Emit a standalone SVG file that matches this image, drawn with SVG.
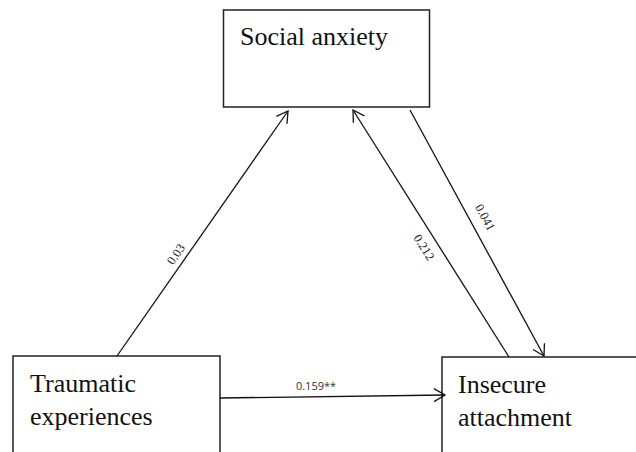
<svg xmlns="http://www.w3.org/2000/svg" width="636" height="452" viewBox="0 0 636 452">
<style>
.box{fill:#fff;stroke:#222;stroke-width:1.5}
.t{font-family:"Liberation Serif","Times New Roman",serif;font-size:26px;fill:#111}
.lbl{font-family:"Open Sans","Liberation Sans",sans-serif;font-size:11px;fill:#333}
.rl{font-family:"Liberation Serif","Times New Roman",serif;font-size:12.5px;fill:#222}
.c{fill:none;stroke:#111;stroke-width:1.3;marker-end:url(#ah)}
</style>
<defs>
<marker id="ah" markerUnits="userSpaceOnUse" markerWidth="16" markerHeight="16" refX="13" refY="8" orient="auto" viewBox="0 0 16 16">
<path d="M2,1.5 L13,8 L2,14.5" fill="none" stroke="#111" stroke-width="1.3"/>
</marker>
</defs>
<rect width="636" height="452" fill="#fff"/>
<g id="social">
<rect class="box" x="223.5" y="10" width="206" height="97"/>
<text class="t" x="240" y="45">Social anxiety</text>
</g>
<g id="traumatic">
<rect class="box" x="13" y="356" width="207" height="110"/>
<text class="t" x="30" y="392">Traumatic</text>
<text class="t" x="30" y="425">experiences</text>
</g>
<g id="insecure">
<rect class="box" x="442" y="357" width="210" height="110"/>
<text class="t" x="458" y="393">Insecure</text>
<text class="t" x="458" y="426">attachment</text>
</g>
<g id="connectors">
<line class="c" x1="117" y1="356" x2="288" y2="111"/>
<line class="c" x1="509" y1="357" x2="353" y2="110"/>
<line class="c" x1="410" y1="110" x2="544" y2="356"/>
<line class="c" x1="220" y1="398" x2="445" y2="395"/>
<text class="rl" transform="translate(177,255) rotate(-55)" text-anchor="middle" dominant-baseline="middle">0.03</text>
<text class="rl" transform="translate(423,248) rotate(57.7)" text-anchor="middle" dominant-baseline="middle">0.212</text>
<text class="rl" transform="translate(484,218) rotate(61.5)" text-anchor="middle" dominant-baseline="middle">0.041</text>
<text class="lbl" x="316" y="390" text-anchor="middle">0.159**</text>
</g>
</svg>
